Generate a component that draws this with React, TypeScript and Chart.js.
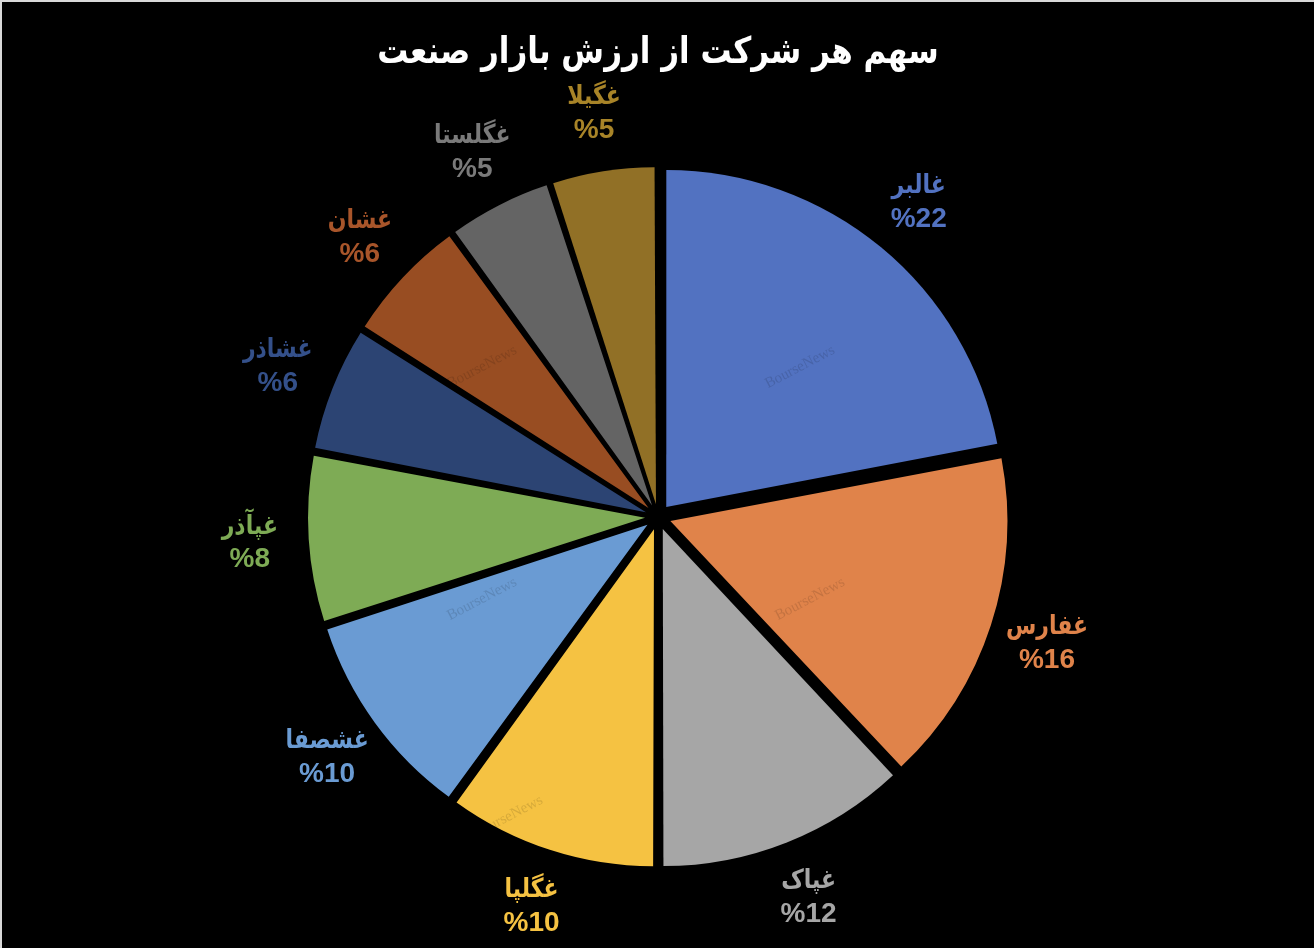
import React, { useEffect, useRef } from "react";
import { Chart, registerables } from "chart.js";

Chart.register(...registerables);

const TITLE = "سهم هر شرکت از ارزش بازار صنعت";
const companies = ["غالبر", "غفارس", "غپاک", "غگلپا", "غشصفا", "غپآذر", "غشاذر", "غشان", "غگلستا", "غگیلا"];
const shares = [22, 16, 12, 10, 10, 8, 6, 6, 5, 5];
const sliceColors = ["#5272C1", "#E0834A", "#A6A6A6", "#F5C242", "#6A9BD3", "#7EAB55", "#2C4473", "#984D22", "#646464", "#917026"];
const labelColors = ["#5272C1", "#E0834A", "#A6A6A6", "#F5C242", "#6A9BD3", "#7EAB55", "#34508A", "#A8552A", "#7A7A7A", "#A88428"];
const WATERMARK = "BourseNews";

const W = 1312;
const H = 946;
const PIE_RADIUS = 337;
const EXPLODE = 52; // Chart.js divides arc offset by 4 -> ~13px

const bgPlugin = {
  id: "bgPlugin",
  beforeDraw(chart: any) {
    const ctx = chart.ctx;
    ctx.save();
    ctx.fillStyle = "#000000";
    ctx.fillRect(0, 0, chart.width, chart.height);
    ctx.restore();
  },
};

// keep the exploded slices at the same radius (Chart.js enlarges narrow exploded arcs)
const explodeFixPlugin = {
  id: "explodeFixPlugin",
  beforeDatasetsDraw(chart: any) {
    const meta = chart.getDatasetMeta(0);
    const R = meta.controller.outerRadius;
    meta.data.forEach((arc: any) => {
      const off = EXPLODE / 4;
      const circ = arc.endAngle - arc.startAngle;
      const fix = 1 - Math.sin(Math.min(Math.PI, circ));
      arc.outerRadius = R - off * fix;
    });
  },
};

const overlayPlugin = {
  id: "overlayPlugin",
  afterDraw(chart: any) {
    const ctx = chart.ctx;
    const meta = chart.getDatasetMeta(0);
    const R = meta.controller.outerRadius;
    ctx.save();
    // title
    ctx.fillStyle = "#FFFFFF";
    ctx.textAlign = "center";
    ctx.textBaseline = "middle";
    ctx.save();
    ctx.translate(chart.width / 2, 52);
    ctx.scale(1, 1.18);
    ctx.font = 'bold 31px "DejaVu Sans"';
    ctx.fillText(TITLE, 0, 0);
    ctx.restore();

    let cx = 0;
    let cy = 0;
    meta.data.forEach((arc: any, i: number) => {
      const p = arc.getProps(["x", "y", "startAngle", "endAngle"], true);
      cx = p.x;
      cy = p.y;
      const mid = (p.startAngle + p.endAngle) / 2;
      const r = R + 72;
      const lx = p.x + Math.cos(mid) * r;
      const ly = p.y + Math.sin(mid) * r;
      ctx.fillStyle = labelColors[i];
      ctx.save();
      ctx.translate(lx, ly - 16);
      ctx.scale(1, 1.2);
      ctx.font = 'bold 22px "DejaVu Sans"';
      ctx.direction = "rtl";
      ctx.fillText(companies[i], 0, 0);
      ctx.restore();
      ctx.direction = "ltr";
      ctx.font = 'bold 28px "Liberation Sans"';
      ctx.fillText("%" + shares[i], lx, ly + 17);
    });

    // faint watermarks
    const marks = [
      [142, -150],
      [-176, -150],
      [-176, 82],
      [152, 82],
      [-150, 300],
    ];
    ctx.font = '15px "Liberation Serif"';
    ctx.fillStyle = "rgba(0,0,0,0.13)";
    marks.forEach(([dx, dy]) => {
      ctx.save();
      ctx.translate(cx + dx, cy + dy);
      ctx.rotate(-Math.PI / 6.5);
      ctx.fillText(WATERMARK, 0, 0);
      ctx.restore();
    });
    ctx.restore();
  },
};

export default function App() {
  const ref = useRef<HTMLCanvasElement | null>(null);

  useEffect(() => {
    document.body.style.margin = "0";
    if (!ref.current) return;
    const chart = new Chart(ref.current, {
      type: "pie",
      data: {
        labels: companies,
        datasets: [
          {
            data: shares,
            backgroundColor: sliceColors,
            borderWidth: 0,
            offset: EXPLODE,
            hoverOffset: 0,
          },
        ],
      },
      options: {
        responsive: false,
        animation: false,
        radius: PIE_RADIUS,
        layout: { padding: { top: 84, bottom: 0, left: 0, right: 0 } },
        plugins: {
          legend: { display: false },
          tooltip: { enabled: false },
          title: { display: false },
        },
      } as any,
      plugins: [bgPlugin, explodeFixPlugin, overlayPlugin],
    });
    return () => chart.destroy();
  }, []);

  return (
    <div style={{ width: 1314, height: 948, background: "#D9D9D9", position: "relative", overflow: "hidden" }}>
      <canvas
        ref={ref}
        width={W}
        height={H}
        style={{ position: "absolute", left: 2, top: 2, width: W, height: H, display: "block" }}
      />
    </div>
  );
}
